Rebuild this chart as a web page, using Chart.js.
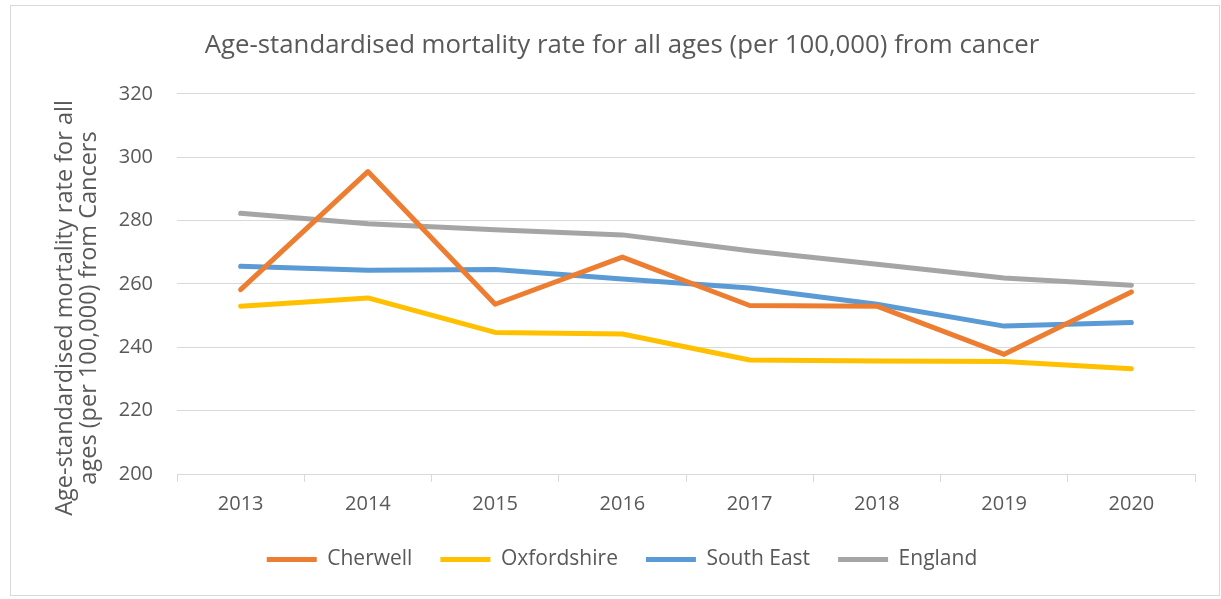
<!DOCTYPE html>
<html>
<head>
<meta charset="utf-8">
<script src="https://cdn.jsdelivr.net/npm/chart.js@4.4.0/dist/chart.umd.min.js"></script>
<style>
  body { margin: 0; background: #ffffff; }
  #frame {
    position: absolute;
    left: 10px;
    top: 5px;
    width: 1208px;
    height: 589px;
    border: 1px solid #d9d9d9;
  }
  canvas { display: block; }
</style>
</head>
<body>
<div id="frame"><canvas id="myChart" width="1208" height="589"></canvas></div>
<script>
// chart data
let years = ["2013", "2014", "2015", "2016", "2017", "2018", "2019", "2020"];
let cherwell = [258.2, 295.5, 253.6, 268.5, 253.2, 253.0, 237.8, 257.5];
let oxfordshire = [253.0, 255.6, 244.7, 244.2, 236.0, 235.7, 235.5, 233.2];
let southEast = [265.6, 264.3, 264.6, 261.6, 258.7, 253.6, 246.7, 247.8];
let england = [282.3, 279.0, 277.1, 275.5, 270.5, 266.2, 261.9, 259.6];
let yTicks = [200, 220, 240, 260, 280, 300, 320];

let chartTitle = "Age-standardised mortality rate for all ages (per 100,000) from cancer";
let yTitle = ["Age-standardised mortality rate for all", "ages (per 100,000) from Cancers"];

let textColor = "#595959";
let gridColor = "#d9d9d9";
let fontName = "'Open Sans', sans-serif";

function makeLine(label, values, color) {
  return {
    label: label,
    data: values,
    borderColor: color,
    backgroundColor: color,
    borderWidth: 5,
    borderCapStyle: "round",
    borderJoinStyle: "round",
    pointRadius: 0,
    pointHoverRadius: 0,
    tension: 0,
    fill: false,
  };
}

// y axis title sits a little below the plot middle, like the original
const yTitlePlugin = {
  id: "yTitlePlugin",
  afterDraw(chart) {
    let ctx = chart.ctx;
    let area = chart.chartArea;
    ctx.save();
    ctx.fillStyle = textColor;
    ctx.font = "23.5px " + fontName;
    ctx.textAlign = "center";
    ctx.textBaseline = "middle";
    ctx.translate(54, area.top + (area.bottom - area.top) / 2 + 24);
    ctx.rotate(-Math.PI / 2);
    for (let i = 0; i < yTitle.length; i++) {
      ctx.fillText(yTitle[i], 0, i * 24);
    }
    ctx.restore();
  },
};

const data = {
  labels: years,
  datasets: [
    makeLine("Cherwell", cherwell, "#ed7d31"),
    makeLine("Oxfordshire", oxfordshire, "#ffc000"),
    makeLine("South East", southEast, "#5b9bd5"),
    makeLine("England", england, "#a5a5a5"),
  ],
};

const config = {
  type: "line",
  data: data,
  plugins: [yTitlePlugin],
  options: {
    responsive: false,
    animation: false,
    events: [],
    layout: { padding: { left: 38, right: 24, top: 0, bottom: 15 } },
    plugins: {
      title: {
        display: true,
        text: chartTitle,
        color: textColor,
        font: { family: fontName, size: 25.8, weight: "normal" },
        padding: { top: 24, bottom: 33 },
      },
      legend: {
        position: "bottom",
        labels: {
          usePointStyle: true,
          pointStyle: "line",
          pointStyleWidth: 50,
          color: textColor,
          font: { family: fontName, size: 21 },
          padding: 28,
        },
      },
      tooltip: { enabled: false },
    },
    scales: {
      x: {
        offset: true,
        grid: {
          offset: true,
          drawOnChartArea: false,
          drawTicks: true,
          tickLength: 8,
          color: gridColor,
        },
        border: { display: true, color: gridColor, width: 1 },
        ticks: {
          color: textColor,
          font: { family: fontName, size: 20 },
          padding: 10,
          maxRotation: 0,
        },
        afterFit: (scale) => {
          scale.height = 47;
        },
      },
      y: {
        min: yTicks[0],
        max: yTicks[yTicks.length - 1],
        afterBuildTicks: (scale) => {
          scale.ticks = yTicks.map((v) => ({ value: v }));
        },
        grid: { color: gridColor, lineWidth: 1, drawTicks: false },
        border: { display: false },
        ticks: {
          color: textColor,
          font: { family: fontName, size: 20 },
          padding: 24,
        },
        afterFit: (scale) => {
          scale.width = 128;
        },
      },
    },
  },
};

let canvasChart = document.getElementById("myChart").getContext("2d");
const myChart = new Chart(canvasChart, config);
</script>
</body>
</html>
